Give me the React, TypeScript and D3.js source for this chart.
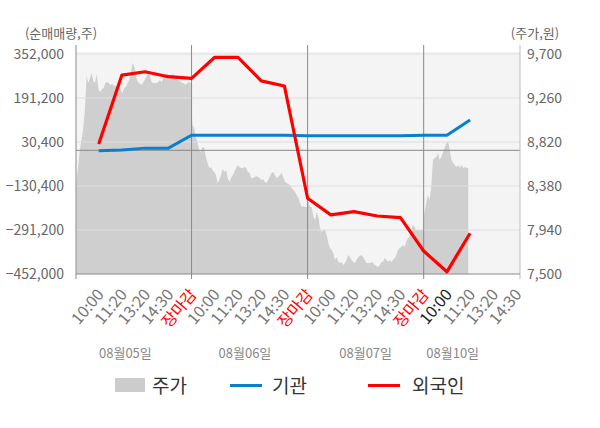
import { useEffect, useRef } from "react";
import * as d3 from "d3";

// day / time labels
const dayLabels = ["08월05일", "08월06일", "08월07일", "08월10일"];
const timeLabels = ["10:00", "11:20", "13:20", "14:30", "장마감"];

// axis ticks
const leftTicks = [352000, 191200, 30400, -130400, -291200, -452000];
const rightTicks = [9700, 9260, 8820, 8380, 7940, 7500];

// 순매매량 (slots 1..17)
const foreign = [23000, 275000, 287000, 269000, 263000, 340000, 340000, 254000, 235000,
    -175000, -236000, -224000, -240000, -246000, -368000, -444000, -303000];
const institution = [-2000, 1000, 8000, 8000, 55000, 55000, 55000, 55000, 55000,
    53000, 53000, 53000, 53000, 53000, 55000, 55000, 111000];

// 주가 per day
const priceDay1 = [8410, 8570, 8730, 8840, 8950, 9140, 9480, 9410, 9460, 9510,
    9420, 9420, 9500, 9340, 9320, 9350, 9360, 9410, 9420, 9410,
    9390, 9400, 9380, 9380, 9370, 9360, 9340, 9310, 9360, 9370,
    9410, 9440, 9520, 9610, 9570, 9470, 9420, 9410, 9390, 9410,
    9440, 9470, 9510, 9490, 9420, 9410, 9410, 9410, 9420, 9440,
    9420, 9460, 9480, 9510, 9490, 9480, 9500, 9490, 9460, 9440,
    9440, 9420, 9410, 9410, 9390, 9410, 9420, 9410];
const priceDay2 = [8990, 8960, 8870, 8820, 8740, 8720, 8770, 8760, 8670, 8610,
    8560, 8570, 8540, 8520, 8490, 8410, 8440, 8490, 8550, 8520,
    8540, 8460, 8420, 8460, 8490, 8520, 8560, 8590, 8570, 8560,
    8560, 8570, 8560, 8520, 8510, 8460, 8460, 8470, 8480, 8470,
    8460, 8440, 8450, 8420, 8410, 8440, 8470, 8510, 8520, 8490,
    8460, 8470, 8490, 8510, 8470, 8420, 8410, 8400, 8390, 8360,
    8340, 8320, 8290, 8260, 8210, 8170, 8180, 8170, 8170];
const priceDay3 = [8220, 8170, 8170, 8070, 8040, 8120, 8070, 7960, 7920, 7940,
    7940, 7890, 7810, 7760, 7740, 7710, 7640, 7670, 7620, 7610,
    7620, 7590, 7610, 7640, 7690, 7670, 7640, 7620, 7610, 7640,
    7670, 7680, 7690, 7670, 7640, 7610, 7610, 7610, 7620, 7610,
    7590, 7580, 7570, 7590, 7620, 7620, 7660, 7640, 7620, 7640,
    7620, 7640, 7660, 7690, 7740, 7760, 7770, 7790, 7770, 7820,
    7860, 7870, 7940, 7990, 7970, 7940, 7940, 7940, 7940, 7940];
const priceDay4 = [8110, 8210, 8290, 8240, 8370, 8640, 8660, 8670, 8710, 8640,
    8670, 8720, 8760, 8810, 8830, 8740, 8640, 8610, 8590, 8570,
    8590, 8560, 8590, 8560, 8570, 8560, 8560];

const FONT = "'Noto Sans CJK KR', 'Noto Sans', sans-serif";

export default function App() {
    const svgRef = useRef(null);
    const width = 600, height = 428;

    useEffect(() => {
        const left = 76, right = 520, top = 52, bottom = 274;

        const svg = d3.select(svgRef.current)
            .attr("width", width)
            .attr("height", height)
            .style("font-family", FONT);
        svg.selectAll("*").remove();

        // x in "slots": 5 per trading day
        const x = d3.scaleLinear().domain([0, 19.15]).range([75.5, right]);
        const yL = d3.scaleLinear().domain([-452000, 352000]).range([bottom, 54]);
        const yR = d3.scaleLinear().domain([7500, 9700]).range([bottom, 54]);

        // price points with positions inside each day
        const days = [priceDay1, priceDay2, priceDay3];
        const prices = [];
        days.forEach((arr, d) => arr.forEach((v, i) => prices.push({ s: d * 5 + (i + 0.5) * 5 / arr.length, v })));
        priceDay4.forEach((v, i) => prices.push({ s: 15 + (i + 0.5) * 5 / 69, v }));

        // background
        svg.append("rect")
            .attr("x", left).attr("y", top)
            .attr("width", right - left).attr("height", bottom - top)
            .attr("fill", "#f4f4f4");

        // price area
        svg.append("path")
            .datum(prices)
            .attr("fill", "#cfcfcf")
            .attr("d", d3.area().x(d => x(d.s)).y0(bottom).y1(d => yR(d.v)));

        // grid
        svg.append("g").selectAll("line")
            .data(leftTicks.slice(0, -1))
            .join("line")
            .attr("x1", left).attr("x2", right)
            .attr("y1", d => yL(d)).attr("y2", d => yL(d))
            .attr("stroke", "#dedede").attr("stroke-width", 1);

        // zero line
        svg.append("line")
            .attr("x1", left).attr("x2", right)
            .attr("y1", yL(0)).attr("y2", yL(0))
            .attr("stroke", "#8a8a8a").attr("stroke-width", 1);

        // day separators + axes
        svg.append("g").selectAll("line")
            .data([5, 10, 15])
            .join("line")
            .attr("x1", d => x(d)).attr("x2", d => x(d))
            .attr("y1", 45).attr("y2", bottom + 5)
            .attr("stroke", "#8a8a8a");
        svg.append("line")
            .attr("x1", left).attr("x2", left).attr("y1", 45).attr("y2", bottom + 5)
            .attr("stroke", "#8a8a8a");
        svg.append("line")
            .attr("x1", right).attr("x2", right).attr("y1", 45).attr("y2", bottom + 5)
            .attr("stroke", "#bdbdbd");
        svg.append("line")
            .attr("x1", left).attr("x2", right).attr("y1", bottom).attr("y2", bottom)
            .attr("stroke", "#8a8a8a");

        // lines
        const line = d3.line().x((d, i) => x(i + 1)).y(d => yL(d));
        svg.append("path")
            .datum(institution)
            .attr("fill", "none").attr("stroke", "#0a80cc").attr("stroke-width", 3)
            .attr("d", line);
        svg.append("path")
            .datum(foreign)
            .attr("fill", "none").attr("stroke", "#ff0000").attr("stroke-width", 3.2)
            .attr("stroke-linejoin", "round")
            .attr("d", line);

        // left / right tick labels
        svg.append("g").selectAll("text")
            .data(leftTicks)
            .join("text")
            .attr("x", 64).attr("y", d => yL(d))
            .attr("dy", "0.35em")
            .attr("text-anchor", "end")
            .attr("fill", "#666").style("font-size", "14px")
            .text(d => d3.format(",")(d));
        svg.append("g").selectAll("text")
            .data(rightTicks)
            .join("text")
            .attr("x", 527).attr("y", d => yR(d))
            .attr("dy", "0.35em")
            .attr("fill", "#666").style("font-size", "14px")
            .text(d => d3.format(",")(d));

        // unit headers
        svg.append("text").attr("x", 61).attr("y", 33).attr("dy", "0.35em")
            .attr("text-anchor", "middle").attr("fill", "#666").style("font-size", "13px")
            .text("(순매매량,주)");
        svg.append("text").attr("x", 535).attr("y", 33).attr("dy", "0.35em")
            .attr("text-anchor", "middle").attr("fill", "#666").style("font-size", "13px")
            .text("(주가,원)");

        // rotated time labels
        const ticks = [];
        for (let s = 1; s <= 19; s++) ticks.push({ s, label: timeLabels[(s - 1) % 5] });
        svg.append("g").selectAll("text")
            .data(ticks)
            .join("text")
            .attr("transform", d => `translate(${x(d.s) + 6},${bottom + 21}) rotate(-50)`)
            .attr("text-anchor", "end")
            .attr("fill", d => d.label === "장마감" ? "#ff0000" : d.s === 16 ? "#222" : "#777")
            .style("font-size", "16px")
            .text(d => d.label);

        // day labels
        const dayPos = [2.15, 7.3, 12.5, 16.25];
        svg.append("g").selectAll("text")
            .data(dayLabels)
            .join("text")
            .attr("x", (d, i) => x(dayPos[i])).attr("y", 353)
            .attr("dy", "0.35em")
            .attr("text-anchor", "middle")
            .attr("fill", "#888").style("font-size", "13px")
            .text(d => d);

        // legend
        const lg = svg.append("g").style("font-size", "19px").attr("fill", "#333");
        lg.append("rect").attr("x", 115).attr("y", 378).attr("width", 30).attr("height", 14).attr("fill", "#cccccc");
        lg.append("text").attr("x", 152).attr("y", 386).attr("dy", "0.35em").text("주가");
        lg.append("line").attr("x1", 230).attr("x2", 262).attr("y1", 385.5).attr("y2", 385.5)
            .attr("stroke", "#0a80cc").attr("stroke-width", 3);
        lg.append("text").attr("x", 272).attr("y", 386).attr("dy", "0.35em").text("기관");
        lg.append("line").attr("x1", 368).attr("x2", 400).attr("y1", 385.5).attr("y2", 385.5)
            .attr("stroke", "#ff0000").attr("stroke-width", 3);
        lg.append("text").attr("x", 412).attr("y", 386).attr("dy", "0.35em").text("외국인");
    }, []);

    return <svg ref={svgRef} style={{ position: "absolute", left: 0, top: 0 }} />;
}
